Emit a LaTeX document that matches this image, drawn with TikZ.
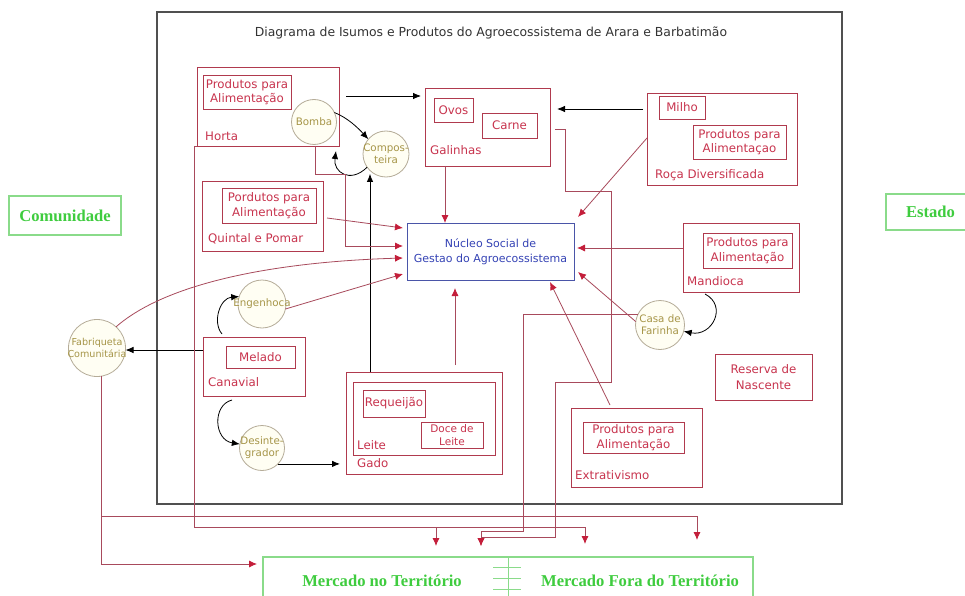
\documentclass[tikz,border=0pt]{standalone}
\usepackage{fontspec}
\setmainfont{DejaVu Sans}
\newfontfamily\placefont{Liberation Serif}
\usetikzlibrary{arrows.meta,calc}

\definecolor{boxred}{HTML}{B03A4E}
\definecolor{txtred}{HTML}{C8344E}
\definecolor{linered}{HTML}{A84A5C}
\definecolor{tipred}{HTML}{C41E3A}
\definecolor{ringedge}{HTML}{B5AC98}
\definecolor{ringfill}{HTML}{FFFEF3}
\definecolor{ringtxt}{HTML}{A69548}
\definecolor{nucedge}{HTML}{4A55A8}
\definecolor{nuctxt}{HTML}{3543B5}
\definecolor{grntxt}{HTML}{3FCC3F}
\definecolor{grnedge}{HTML}{8ADB8A}
\definecolor{framegray}{HTML}{505050}

\tikzset{
  areabox/.style 2 args={draw=boxred, line width=0.9pt, inner sep=0pt, outer sep=0pt,
    minimum width=#1, minimum height=#2},
  itembox/.style 2 args={areabox={#1}{#2}, text=txtred, align=center,
    font=\fontsize{11.8}{14.5}\selectfont},
  areatag/.style={anchor=mid west, inner sep=0pt, text=txtred,
    font=\fontsize{11.8}{13}\selectfont},
  ring/.style={circle, draw=ringedge, fill=ringfill, line width=0.8pt,
    inner sep=0pt, outer sep=0pt, minimum size=#1},
  ringtext/.style={inner sep=0pt, text=ringtxt, align=center,
    font=\fontsize{10.3}{12}\selectfont},
  placebox/.style 2 args={draw=grnedge, line width=1.2pt, inner sep=0pt, outer sep=0pt,
    minimum width=#1, minimum height=#2},
  placetext/.style={inner sep=0pt, text=grntxt,
    font=\placefont\bfseries\fontsize{16.6}{18}\selectfont},
  blk/.style={draw=black, line width=0.8pt, -{Latex[length=8pt,width=6.5pt]}},
  redlink/.style={draw=linered, line width=0.8pt},
  redarrow/.style={redlink, -{Latex[length=8pt,width=7pt,color=tipred]}},
}

\begin{document}
\begin{tikzpicture}[x=1pt,y=-1pt]
\clip (0,0) rectangle (965,596);
\fill[white] (0,0) rectangle (965,596);

% system boundary and heading
\node[draw=framegray, line width=1.1pt, minimum width=685, minimum height=492,
  inner sep=0pt, outer sep=0pt, anchor=north west] (frame) at (157,12) {};
\node[font=\fontsize{12.4}{14}\selectfont, text=black!80] (title) at (491,33)
  {Diagrama de Isumos e Produtos do Agroecossistema de Arara e Barbatimão};

% Horta
\node[areabox={142}{79}] (horta) at (268,106.5) {};
\node[itembox={88}{34}] (hortaP) at (247,92) {Produtos para\\Alimentação};
\node[areatag] (hortaT) at (205,138) {Horta};

% Galinhas
\node[areabox={125}{78}] (gal) at (487.5,127) {};
\node[itembox={39}{24}] (ovos) at (453.5,110) {Ovos};
\node[itembox={55}{25}] (carne) at (509.5,125.5) {Carne};
\node[areatag] (galT) at (430,152) {Galinhas};

% Roça Diversificada
\node[areabox={150}{92}] (roca) at (722,139) {};
\node[itembox={46}{23}] (milho) at (682,107.5) {Milho};
\node[itembox={93}{34}] (rocaP) at (739.5,142) {Produtos para\\Alimentaçao};
\node[areatag] (rocaT) at (655,176) {Roça Diversificada};

% Quintal e Pomar
\node[areabox={121}{70}] (quintal) at (262.5,216) {};
\node[itembox={94}{35}] (quintalP) at (269,205.5) {Pordutos para\\Alimentação};
\node[areatag] (quintalT) at (208,240) {Quintal e Pomar};

% central node
\node[draw=nucedge, line width=1pt, minimum width=167, minimum height=57,
  inner sep=0pt, outer sep=0pt, text=nuctxt, align=center,
  font=\fontsize{11}{14.5}\selectfont] (nucleo) at (490.5,251.5)
  {Núcleo Social de\\Gestao do Agroecossistema};

% Mandioca
\node[areabox={116}{69}] (mandioca) at (741,257.5) {};
\node[itembox={89}{35}] (mandiocaP) at (747.5,250.5) {Produtos para\\Alimentação};
\node[areatag] (mandiocaT) at (687,283) {Mandioca};

% Canavial
\node[areabox={102}{59}] (canavial) at (254,366.5) {};
\node[itembox={69}{22}] (melado) at (260.5,357) {Melado};
\node[areatag] (canavialT) at (208,384) {Canavial};

% Gado
\node[areabox={156}{102}] (gado) at (424,423) {};
\node[areabox={142}{73}] (leite) at (424,418.5) {};
\node[itembox={62}{27}] (requeijao) at (394,403.5) {Requeijão};
\node[itembox={62}{26}, font=\fontsize{10.5}{12.5}\selectfont] (doce) at (452,435) {Doce de\\Leite};
\node[areatag] (leiteT) at (357,447) {Leite};
\node[areatag] (gadoT) at (357,465) {Gado};

% Reserva de Nascente
\node[areabox={97}{46}, text=txtred, align=center, font=\fontsize{11.8}{15.5}\selectfont]
  (reserva) at (763.5,377) {Reserva de\\Nascente};

% Extrativismo
\node[areabox={131}{79}] (extr) at (636.5,447.5) {};
\node[itembox={101}{31}] (extrP) at (633.5,437.5) {Produtos para\\Alimentação};
\node[areatag] (extrT) at (575,477) {Extrativismo};

% processing units
\node[ring=45] (bomba) at (314,122) {};
\node[ringtext] (bombaT) at (bomba) {Bomba};
\node[ring=46] (compost) at (386,154) {};
\node[ringtext] (compostT) at (compost) {Compos-\\teira};
\node[ring=48] (engen) at (262,304) {};
\node[ringtext] (engenT) at (engen) {Engenhoca};
\node[ring=57] (fabriq) at (97,348) {};
\node[ringtext, font=\fontsize{9.6}{12}\selectfont] (fabriqT) at (fabriq) {Fabriqueta\\Comunitária};
\node[ring=45] (desint) at (262,448) {};
\node[ringtext] (desintT) at (desint) {Desinte-\\grador};
\node[ring=49] (casa) at (660,325) {};
\node[ringtext] (casaT) at (casa) {Casa de\\Farinha};

% outside actors and markets
\node[placebox={112}{39}] (comunidade) at (65,215.5) {};
\node[placetext] (comunidadeT) at (comunidade) {Comunidade};
\node[placebox={89}{36}] (estado) at (930.5,212) {};
\node[placetext] (estadoT) at (estado) {Estado};
\node[placebox={490}{60}, anchor=north west] (mercado) at (263,557) {};
\node[placetext] (mercNo) at (382,581) {Mercado no Território};
\node[placetext] (mercFora) at (640,581) {Mercado Fora do Território};
\coordinate (sepTop) at (508,557);
\draw[grnedge, line width=1pt] (sepTop) -- ++(0,45);
\foreach \yy in {10,21,32}
  \draw[grnedge, line width=1pt] ($(sepTop)+(-15,\yy)$) -- ++(28,0);

% black flows between units
\draw[blk] ($(horta.north east)+(7,29)$) -- ($(gal.north west)+(-4,8)$);
\draw[blk] ($(roca.north west)+(-4,16)$) -- ($(gal.north east)+(7,21)$);
\draw[blk] (bomba.25) .. controls (348,118) and (358,128) .. (compost.140);
\coordinate (hortaLoop) at (336,151);
\draw[blk] (compost.215) .. controls (350,184) and (333,172) .. (hortaLoop);
\coordinate (gadoUp) at ($(gado.north west)+(24,0)$);
\draw[blk] (gadoUp) -- (gadoUp |- compost.240);
\coordinate (canOut) at ($(canavial.north west)+(0,13)$);
\draw[blk] (canOut) -- (canOut -| fabriq.east);
\draw[blk] ($(canavial.north west)+(19,-3)$) .. controls (212,322) and (220,298) .. (engen.162);
\draw[blk] ($(canavial.south west)+(29,4)$) .. controls (212,405) and (214,440) .. (desint.170);
\draw[blk, shorten >=6pt] (desint.-45) -- (desint.-45 -| gado.west);
\draw[blk] ($(mandioca.south west)+(22,2)$) .. controls (728,306) and (712,337) .. (casa.-15);

% flows into the central node
\coordinate (galDown) at ($(gal.south west)+(20,0)$);
\draw[redarrow] (galDown) -- (galDown |- nucleo.north);
\draw[redarrow] ($(horta.south west)+(118,0)$) -- ++(0,28)
  -| ($(nucleo.north west)+(-62,23)$) -- ($(nucleo.north west)+(-4,23)$);
\draw[redarrow] ($(quintal.north east)+(4,37)$) -- ($(nucleo.north west)+(-4,5)$);
\draw[redarrow] (fabriq.48) .. controls (165,284) and (270,262) .. ($(nucleo.north west)+(-4,35)$);
\draw[redarrow] (engen.-12) -- ($(nucleo.north west)+(-4,51)$);
\coordinate (gadoNuc) at ($(gado.north west)+(109,0)$);
\draw[redarrow, shorten <=7pt, shorten >=8pt] (gadoNuc) -- (gadoNuc |- nucleo.south);
\draw[redarrow] ($(extr.north west)+(39,-3)$) -- ($(nucleo.south east)+(-24,2)$);
\draw[redarrow] (casa.172) -- ($(nucleo.south east)+(4,-8)$);
\draw[redarrow] ($(mandioca.north west)+(0,25)$) -- ($(nucleo.north east)+(3,25)$);
\draw[redarrow] ($(roca.north west)+(0,45)$) -- ($(nucleo.north east)+(4,-6)$);

% flows to the markets
\coordinate (mA) at (436,546);
\coordinate (mB) at (481,546);
\coordinate (mC) at (585,544);
\coordinate (mD) at (697,540);
\coordinate (mE) at (257,564);
\coordinate (hortaDrop) at (436,527);
\coordinate (fabJoin) at (101,516);
\draw[redarrow] (horta.south west) -- ++(-3,0) -- ++(0,381) -| (mC);
\draw[redarrow] (hortaDrop) -- (mA);
\draw[redarrow] ($(gal.east)+(5,2)$) -- ++(10,0) -- ++(0,62) -- ++(46,0)
  -- ++(0,191) -- ++(-56,0) -- ++(0,155) -| (mB);
\draw[redarrow] (casa.155) -- ++(-114,0) -- ++(0,217) -| (mB);
\draw[redarrow] (fabriq.-82) |- (mE);
\draw[redarrow] (fabJoin) -| (mD);
\end{tikzpicture}
\end{document}
